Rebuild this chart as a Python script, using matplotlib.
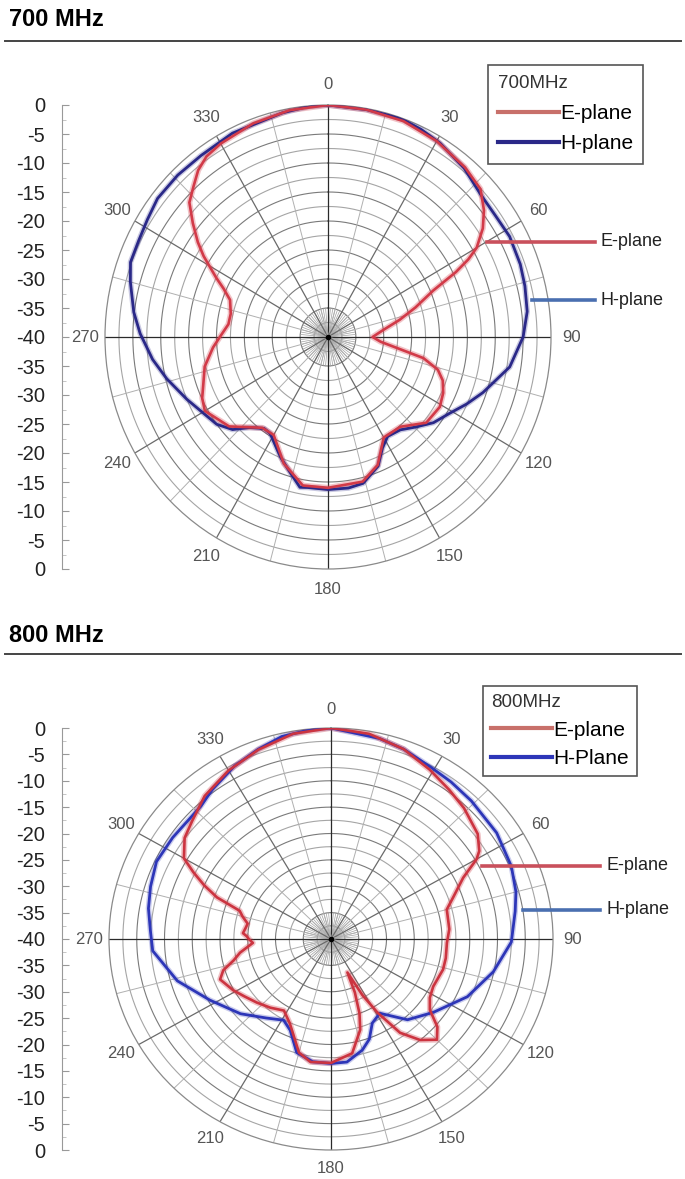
import numpy as np
import matplotlib
matplotlib.use('Agg')
from matplotlib import pyplot as plt
from matplotlib.lines import Line2D

plt.rcParams['font.family'] = ['Liberation Sans', 'DejaVu Sans']

W, H = 685, 1179

# 700 MHz, E-plane (deg, dB)
e700_ang = [0, 10, 20, 30, 40, 47, 52, 56, 60, 62, 64, 67, 72, 77, 83, 90, 95, 98, 102, 106, 110,
            115, 121, 130, 140, 150, 158, 166, 180, 190, 200, 210, 217, 229, 240, 245, 250, 257,
            265, 270, 277, 283, 290, 294, 297, 302, 305, 309, 313, 317, 321, 325, 330, 340, 350]
e700_db = [0, -0.2, -0.4, -1.0, -1.8, -2.6, -4.5, -6.5, -9.2, -11.5, -14.5, -19.5, -23.5, -26.8,
           -30.0, -32.0, -30.5, -28.2, -22.5, -19.5, -18.1, -17.2, -16.6, -17.0, -19.8, -20.0,
           -16.2, -14.3, -14.0, -14.0, -16.8, -20.5, -20.4, -16.5, -14.5, -15.1, -16.2, -17.3,
           -19.3, -20.6, -22.0, -22.1, -21.3, -19.5, -17.5, -13.7, -11.5, -8.8, -6.0, -4.6,
           -3.0, -2.0, -1.5, -0.8, -0.3]

# 700 MHz, H-plane
h700_ang = [0, 10, 19, 25, 31, 40, 48, 55, 62, 70, 76, 83, 90, 99, 109, 115, 121, 128, 135, 141,
            148, 153, 158, 166, 172, 180, 188, 191, 196, 202, 205, 212, 216, 222, 227, 233, 240,
            247, 256, 263, 271, 277, 285, 290, 296, 302, 308, 316, 324, 334, 348, 355]
h700_db = [0, -0.2, -0.1, -0.5, -1.0, -2.0, -3.2, -3.4, -3.1, -3.3, -3.6, -4.0, -5.0, -7.0,
           -10.6, -12.6, -14.5, -16.0, -18.0, -19.4, -19.8, -18.5, -16.0, -14.0, -13.7, -13.7,
           -13.8, -13.6, -15.6, -17.5, -18.5, -20.4, -20.5, -19.0, -16.6, -15.0, -14.0, -12.5,
           -10.2, -8.3, -6.3, -4.9, -3.3, -2.3, -2.2, -1.8, -1.2, -1.2, -1.3, -0.9, -0.5, -0.1]

# 800 MHz, E-plane
e800_ang = [0, 10, 20, 29, 37, 44, 53, 58, 60, 64, 70, 75, 85, 92, 100, 106, 116, 122, 127, 131,
            135, 140, 145, 149, 152, 155, 157, 160, 163, 170, 180, 189, 195, 205, 212, 220, 228,
            235, 241, 249, 253, 257, 261, 267, 270, 272, 274, 278, 281, 285, 288, 291, 294, 297,
            300, 306, 312, 320, 330, 340, 350]
e800_db = [0, -0.5, -1.7, -3.3, -4.6, -5.5, -6.9, -8.5, -9.7, -13.5, -16.5, -18.4, -18.6, -19.1,
           -19.0, -19.0, -19.5, -19.0, -17.7, -14.6, -13.0, -15.0, -18.3, -23.7, -28.0, -33.0,
           -29.0, -25.0, -22.0, -18.0, -16.5, -16.4, -17.7, -22.4, -24.0, -23.0, -22.0, -21.0,
           -19.9, -18.6, -19.7, -22.0, -23.4, -25.9, -25.2, -24.8, -24.1, -24.5, -24.7, -23.5,
           -22.7, -18.0, -15.0, -12.2, -9.4, -7.4, -6.4, -4.6, -3.1, -1.8, -0.5]

# 800 MHz, H-plane
h800_ang = [0, 13, 20, 29, 36, 44, 56, 67, 75, 81, 91, 102, 114, 127, 138, 148, 155, 160, 165,
            173, 180, 188, 196, 203, 209, 218, 229, 242, 254, 266, 273, 280, 287, 295, 304, 317,
            323, 332, 340, 347, 355]
h800_db = [0, -1.0, -1.7, -2.8, -3.2, -3.6, -4.0, -4.7, -5.5, -6.4, -7.5, -10.1, -13.1, -16.9,
           -19.4, -23.4, -22.4, -19.8, -18.2, -16.5, -16.4, -16.5, -17.6, -21.2, -22.4, -21.0,
           -18.4, -15.3, -11.2, -7.8, -7.4, -6.6, -6.0, -5.3, -5.6, -5.6, -4.5, -2.9, -1.7,
           -0.6, -0.1]

angle_ticks = list(range(0, 360, 30))
db_ticks = list(range(-40, 41, 5))
db_labels = [str(abs(v) - 40) for v in db_ticks]


def fx(x):
    return x / W


def fy(y):
    return 1 - y / H


def closed(ang, db):
    a = np.deg2rad(np.r_[ang, ang[0]])
    return a, np.r_[db, db[0]]


def panel(fig, cx, cy, rx, ry, ax_x, title, title_y, line_y,
          e_ang, e_db, h_ang, h_db, e_col, h_col, leg_title, h_name, leg_pos,
          ann_e, ann_h, labsp, bpad):
    # title and rule
    fig.text(fx(9), fy(title_y), title, fontsize=17, fontweight='bold', va='center', ha='left')
    fig.add_artist(Line2D([fx(5), fx(681)], [fy(line_y), fy(line_y)], color='#444444', lw=1.4))

    # left dB scale
    axl = fig.add_axes([fx(ax_x), fy(cy + ry), 0.02, 2 * ry / H])
    axl.set_ylim(-40, 40)
    axl.set_yticks(db_ticks)
    axl.set_yticklabels(db_labels)
    axl.set_yticks(np.arange(-37.5, 40, 5), minor=True)
    axl.set_xticks([])
    for s in ['top', 'right', 'bottom']:
        axl.spines[s].set_visible(False)
    axl.spines['left'].set_color('#999999')
    axl.tick_params(axis='y', which='major', direction='in', length=5, color='#999999',
                    labelsize=14.5, labelcolor='#222222', pad=12)
    axl.tick_params(axis='y', which='minor', direction='in', length=3, color='#bbbbbb')
    axl.patch.set_alpha(0)

    # polar chart
    ax = fig.add_axes([fx(cx - rx), fy(cy + ry), 2 * rx / W, 2 * ry / H], projection='polar')
    ax.set_aspect('auto')
    ax.set_theta_zero_location('N')
    ax.set_theta_direction(-1)
    ax.set_ylim(-40, 0)
    ax.grid(False)
    ax.set_xticks([])
    ax.set_yticks([])
    ax.spines['polar'].set_color('#8a8a8a')
    ax.spines['polar'].set_linewidth(0.9)

    th = np.linspace(0, 2 * np.pi, 361)
    for r in np.arange(-37.5, 0, 2.5):
        c = '#7a7a7a' if r % 5 == 0 else '#a5a5a5'
        ax.plot(th, np.full_like(th, r), color=c, lw=0.8, zorder=1)
    for a in range(0, 360, 5):
        ax.plot([np.deg2rad(a)] * 2, [-40, -35], color='#a0a0a0', lw=0.5, zorder=1)
    for a in range(0, 360, 15):
        if a % 90 == 0:
            c, lw = '#2a2a2a', 0.9
        elif a % 30 == 0:
            c, lw = '#6a6a6a', 0.9
        else:
            c, lw = '#b0b0b0', 0.7
        ax.plot([np.deg2rad(a)] * 2, [-40, 0], color=c, lw=lw, zorder=1)
    ax.plot([0], [-40], 'o', color='black', ms=3, zorder=2)

    for a in angle_ticks:
        ax.text(np.deg2rad(a), 3.6, str(a), ha='center', va='center', fontsize=12,
                color='#555555', clip_on=False)

    # pattern curves
    ta, ra = closed(h_ang, h_db)
    ax.plot(ta, ra, color=h_col, lw=4.0, alpha=0.25, zorder=3)
    ax.plot(ta, ra, color=h_col, lw=2.0, zorder=4)
    tb, rb = closed(e_ang, e_db)
    ax.plot(tb, rb, color=e_col, lw=4.2, alpha=0.3, zorder=3)
    ax.plot(tb, rb, color=e_col, lw=1.9, zorder=4)

    handles = [Line2D([], [], color='#c8706a', lw=3), Line2D([], [], color=h_col, lw=3)]
    leg = ax.legend(handles, ['E-plane', h_name], title=leg_title, loc='upper left',
                    bbox_to_anchor=(fx(leg_pos[0]), fy(leg_pos[1])), bbox_transform=fig.transFigure,
                    fontsize=15, title_fontsize=13.5, alignment='left', fancybox=False,
                    edgecolor='#555555', framealpha=1, handlelength=2.9, handletextpad=0.05,
                    labelspacing=labsp, borderpad=bpad, borderaxespad=0)
    leg.get_frame().set_linewidth(1.2)
    leg.get_title().set_color('#333333')

    # side labels
    for (x0, x1, y, name, col) in [ann_e + ('E-plane', '#c9505c'), ann_h + ('H-plane', '#4a6fb0')]:
        fig.add_artist(Line2D([fx(x0), fx(x1)], [fy(y), fy(y)], color=col, lw=2.6, zorder=6))
        fig.text(fx(x1 + 6), fy(y), name, fontsize=13, va='center', ha='left', color='#222222')


fig = plt.figure(figsize=(W / 100, H / 100), dpi=100)

panel(fig, 328, 337, 223, 232, 62, '700 MHz', 19, 41,
      e700_ang, e700_db, h700_ang, h700_db, '#d23a48', '#2a2888', '700MHz', 'H-plane',
      (488, 65), (487, 595, 242), (532, 595, 300), 0.55, 0.5)

panel(fig, 331, 939, 222, 211, 62, '800 MHz', 636, 654,
      e800_ang, e800_db, h800_ang, h800_db, '#cc3440', '#2d36b8', '800MHz', 'H-Plane',
      (483, 686), (482, 600, 866), (523, 600, 910), 0.45, 0.4)

fig.savefig('out.png', dpi=100)
